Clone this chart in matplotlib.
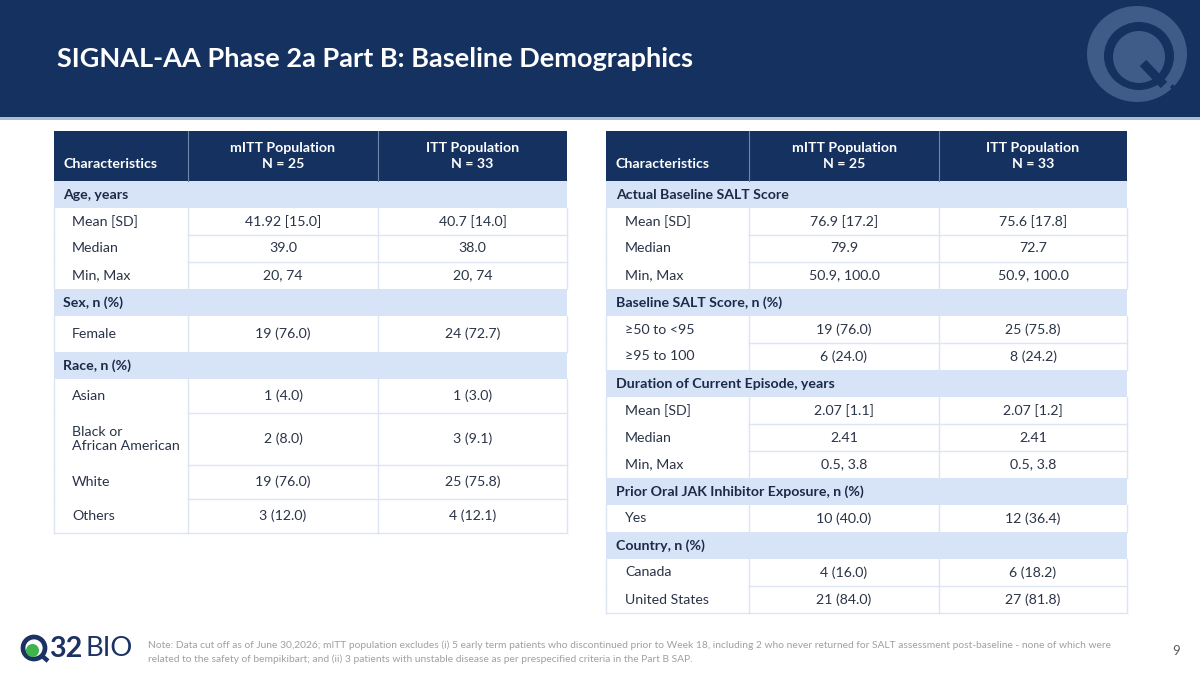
import matplotlib
matplotlib.use("Agg")
import matplotlib.pyplot as plt
from matplotlib.patches import Rectangle, Circle, Ellipse

plt.rcParams['font.family'] = ['Lato', 'DejaVu Sans']

# ---------------- data ----------------
TITLE = "SIGNAL-AA Phase 2a Part B: Baseline Demographics"
col_char = "Characteristics"
col_mitt = ["mITT Population", "N = 25"]
col_itt = ["ITT Population", "N = 33"]

age_title = "Age, years"
age_labels = ["Mean [SD]", "Median", "Min, Max"]
age_mitt = ["41.92 [15.0]", "39.0", "20, 74"]
age_itt = ["40.7 [14.0]", "38.0", "20, 74"]

sex_title = "Sex, n (%)"
sex_labels = ["Female"]
sex_mitt = ["19 (76.0)"]
sex_itt = ["24 (72.7)"]

race_title = "Race, n (%)"
race_labels = ["Asian", "Black or\nAfrican American", "White", "Others"]
race_mitt = ["1 (4.0)", "2 (8.0)", "19 (76.0)", "3 (12.0)"]
race_itt = ["1 (3.0)", "3 (9.1)", "25 (75.8)", "4 (12.1)"]

salt_title = "Actual Baseline SALT Score"
salt_labels = ["Mean [SD]", "Median", "Min, Max"]
salt_mitt = ["76.9 [17.2]", "79.9", "50.9, 100.0"]
salt_itt = ["75.6 [17.8]", "72.7", "50.9, 100.0"]

saltcat_title = "Baseline SALT Score, n (%)"
saltcat_labels = ["\u226550 to <95", "\u226595 to 100"]
saltcat_mitt = ["19 (76.0)", "6 (24.0)"]
saltcat_itt = ["25 (75.8)", "8 (24.2)"]

dur_title = "Duration of Current Episode, years"
dur_labels = ["Mean [SD]", "Median", "Min, Max"]
dur_mitt = ["2.07 [1.1]", "2.41", "0.5, 3.8"]
dur_itt = ["2.07 [1.2]", "2.41", "0.5, 3.8"]

jak_title = "Prior Oral JAK Inhibitor Exposure, n (%)"
jak_labels = ["Yes"]
jak_mitt = ["10 (40.0)"]
jak_itt = ["12 (36.4)"]

country_title = "Country, n (%)"
country_labels = ["Canada", "United States"]
country_mitt = ["4 (16.0)", "21 (84.0)"]
country_itt = ["6 (18.2)", "27 (81.8)"]

NOTE1 = ("Note: Data cut off as of June 30,2026; mITT population excludes (i) 5 early term patients who discontinued "
         "prior to Week 18, including 2 who never returned for SALT assessment post-baseline - none of which were")
NOTE2 = ("related to the safety of bempikibart; and (ii) 3 patients with unstable disease as per prespecified "
         "criteria in the Part B SAP.")
PAGE = "9"

left_groups = [(age_title, age_labels, age_mitt, age_itt),
               (sex_title, sex_labels, sex_mitt, sex_itt),
               (race_title, race_labels, race_mitt, race_itt)]
right_groups = [(salt_title, salt_labels, salt_mitt, salt_itt),
                (saltcat_title, saltcat_labels, saltcat_mitt, saltcat_itt),
                (dur_title, dur_labels, dur_mitt, dur_itt),
                (jak_title, jak_labels, jak_mitt, jak_itt),
                (country_title, country_labels, country_mitt, country_itt)]

# ---------------- layout / style ----------------
NAVY = "#15315F"
GROUP_BG = "#D7E4F7"
GRID = "#DCE5F1"
TXT = "#2A3447"
GTXT = "#1C2A48"
BODY_FS = 10.2

left_heights = [[27, 27, 27], [36], [34, 52, 34, 34]]
right_heights = [[27, 27, 27], [27, 27], [27, 27, 27], [27], [27, 27]]

fig = plt.figure(figsize=(12, 6.75), dpi=100)
ax = fig.add_axes([0, 0, 1, 1])
ax.set_xlim(0, 1200)
ax.set_ylim(675, 0)
ax.axis("off")
renderer = fig.canvas.get_renderer()


def fit_text(x, y, s, width, size0=10, **kw):
    t = ax.text(x, y, s, fontsize=size0, **kw)
    bb = t.get_window_extent(renderer)
    t.set_fontsize(size0 * width / bb.width)
    return t


# header band
ax.add_patch(Rectangle((0, 0), 1200, 117, fc=NAVY, ec="none", zorder=1))

# watermark Q
QC = "#3F5B88"
ax.add_patch(Ellipse((1137, 54), 100, 96, fc=QC, ec="none", zorder=2))
ax.add_patch(Ellipse((1139, 56), 70, 68, fc=NAVY, ec="none", zorder=2))
ax.add_patch(Circle((1139, 57), 26, fc=QC, ec="none", zorder=2))
ax.plot([1143, 1164], [63, 85], color=NAVY, lw=6.5, solid_capstyle="butt", zorder=2)
ax.plot([1171, 1186], [86, 95], color=NAVY, lw=3.0, solid_capstyle="butt", zorder=2)

ax.add_patch(Rectangle((0, 117), 1200, 2.5, fc="#AEBBD0", ec="none", zorder=3))
fit_text(57, 59, TITLE, 636, 20, color="white", fontweight="bold", va="center", ha="left", zorder=3)


def draw_table(x0, widths, groups, heights, gindent, lindent):
    xs = [x0, x0 + widths[0], x0 + widths[0] + widths[1], x0 + sum(widths)]
    xe = xs[-1]
    y = 131
    ax.add_patch(Rectangle((x0, y), xe - x0, 50, fc=NAVY, ec="none", zorder=2))
    for xv in xs[1:3]:
        ax.plot([xv, xv], [y, y + 50], color="#6F86AC", lw=0.8, zorder=3)
    ax.text(x0 + gindent, y + 33, col_char, color="white", fontweight="bold",
            fontsize=BODY_FS, va="center", ha="left", zorder=4)
    for ci, lines in ((1, col_mitt), (2, col_itt)):
        cx = (xs[ci] + xs[ci + 1]) / 2
        ax.text(cx, y + 17, lines[0], color="white", fontweight="bold", fontsize=BODY_FS,
                va="center", ha="center", zorder=4)
        ax.text(cx, y + 33, lines[1], color="white", fontweight="bold", fontsize=BODY_FS,
                va="center", ha="center", zorder=4)
    y += 50
    for (gt, labels, mv, iv), hs in zip(groups, heights):
        ax.add_patch(Rectangle((x0, y), xe - x0, 27, fc=GROUP_BG, ec="none", zorder=2))
        ax.text(x0 + gindent, y + 14, gt, color=GTXT, fontweight="bold", fontsize=BODY_FS,
                va="center", ha="left", zorder=4)
        y += 27
        for k, (lab, a, b) in enumerate(zip(labels, mv, iv)):
            h = hs[k]
            cy = y + h / 2
            ax.text(x0 + lindent, cy, lab, color=TXT, fontsize=BODY_FS, va="center",
                    ha="left", linespacing=1.2, zorder=4)
            ax.text((xs[1] + xs[2]) / 2, cy, a, color=TXT, fontsize=BODY_FS, va="center",
                    ha="center", zorder=4)
            ax.text((xs[2] + xs[3]) / 2, cy, b, color=TXT, fontsize=BODY_FS, va="center",
                    ha="center", zorder=4)
            for xv in xs:
                ax.plot([xv, xv], [y, y + h], color=GRID, lw=1.0, zorder=3)
            if k < len(labels) - 1:
                ax.plot([xs[1], xe], [y + h, y + h], color=GRID, lw=1.0, zorder=3)
            y += h
    ax.plot([x0, xe], [y, y], color=GRID, lw=1.0, zorder=3)


draw_table(54, [134, 190, 189], left_groups, left_heights, 9, 18)
draw_table(606, [143, 190, 188], right_groups, right_heights, 10, 19)

# footer logo
LOGO = "#1B3263"
ax.add_patch(Circle((34, 648), 11.0, fill=False, ec=LOGO, lw=3.4, zorder=3))
ax.add_patch(Circle((32.5, 650.5), 6.5, fc="#3DB54A", ec="none", zorder=3))
ax.plot([41, 48], [655, 661], color=LOGO, lw=3.2, solid_capstyle="butt", zorder=3)
fit_text(49, 649, "32", 33, 20, color=LOGO, fontweight="bold", va="center", ha="left", zorder=3)
fit_text(86, 649, "BIO", 47, 20, color=LOGO, fontweight="normal", va="center", ha="left", zorder=3)

t1 = fit_text(148, 645, NOTE1, 975, 8, color="#A0A0A0", va="center", ha="left")
ax.text(148, 659, NOTE2, color="#A0A0A0", va="center", ha="left",
        fontsize=t1.get_fontsize())
ax.text(1176, 651, PAGE, color="#595959", fontsize=9.5, va="center", ha="center")

fig.savefig("out.png", dpi=100, facecolor="white")
